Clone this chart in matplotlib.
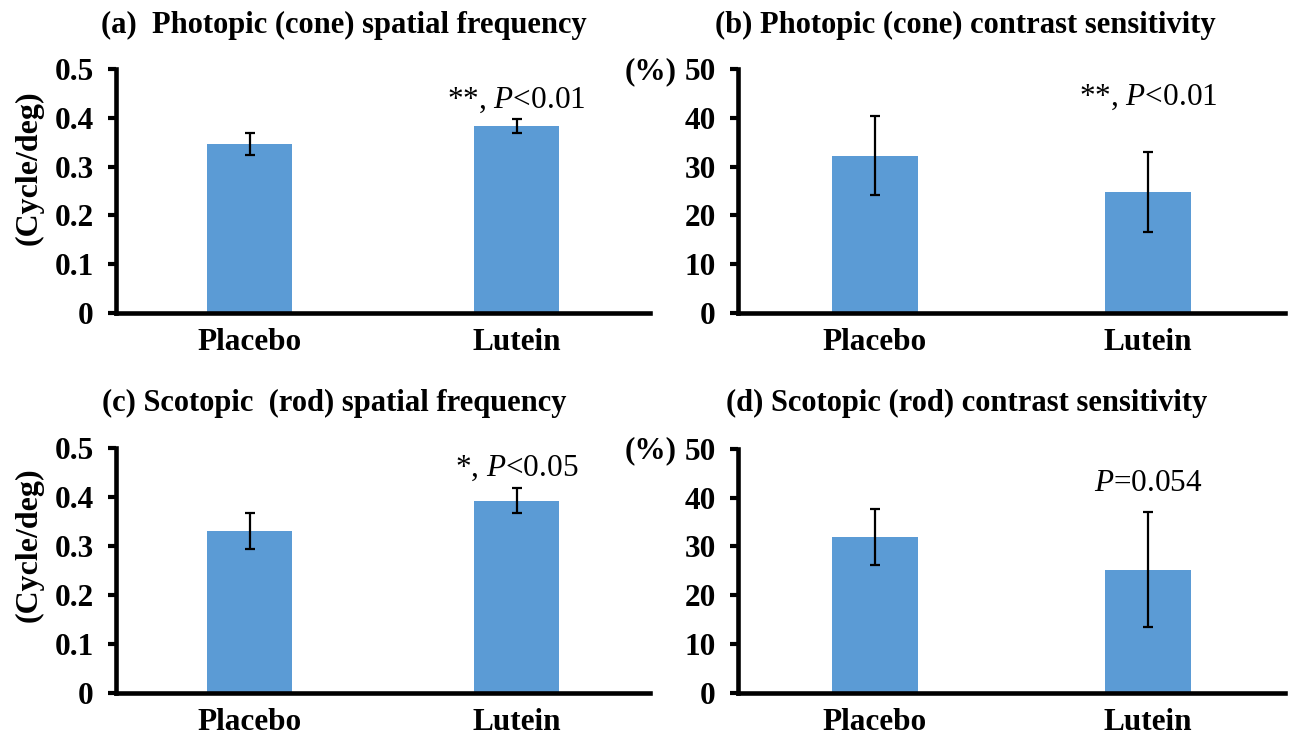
import matplotlib
matplotlib.use("Agg")
import matplotlib.pyplot as plt
import numpy as np

plt.rcParams['font.family'] = ['Liberation Serif', 'DejaVu Serif']
plt.rcParams['mathtext.fontset'] = 'custom'
plt.rcParams['mathtext.rm'] = 'Liberation Serif'
plt.rcParams['mathtext.it'] = 'Liberation Serif:italic'
plt.rcParams['mathtext.bf'] = 'Liberation Serif:bold'

categories = ["Placebo", "Lutein"]

titles = ["(a)  Photopic (cone) spatial frequency",
          "(b) Photopic (cone) contrast sensitivity",
          "(c) Scotopic  (rod) spatial frequency",
          "(d) Scotopic (rod) contrast sensitivity"]

a_vals = [0.346, 0.383]
a_err = [0.022, 0.014]
b_vals = [32.2, 24.8]
b_err = [8.1, 8.25]
c_vals = [0.331, 0.393]
c_err = [0.036, 0.025]
d_vals = [31.9, 25.2]
d_err = [5.75, 11.8]

annotations = [r"**, $\mathit{P}$<0.01", r"**, $\mathit{P}$<0.01",
               r"*, $\mathit{P}$<0.05", r"$\mathit{P}$=0.054"]
annot_y = [0.436, 44.1, 0.459, 43.0]

freq_ticks = [0, 0.1, 0.2, 0.3, 0.4, 0.5]
freq_ticklabels = ["0", "0.1", "0.2", "0.3", "0.4", "0.5"]
cs_ticks = [0, 10, 20, 30, 40, 50]
cs_ticklabels = ["0", "10", "20", "30", "40", "50"]

W, H = 1290, 737
fig = plt.figure(figsize=(W / 100, H / 100), dpi=100)

def ax_rect(x0, x1, ytop, ybot):
    return [x0 / W, 1 - ybot / H, (x1 - x0) / W, (ybot - ytop) / H]

rects = [ax_rect(116, 650, 69, 313), ax_rect(738, 1285, 69, 313),
         ax_rect(116, 650, 448.3, 692.7), ax_rect(738, 1285, 449, 692.7)]
vals = [a_vals, b_vals, c_vals, d_vals]
errs = [a_err, b_err, c_err, d_err]
title_x = [344, 965, 334, 967]
title_y = [25, 25, 403, 403]
ylabel_y = [168, 545]

bar_color = "#5B9BD5"
x = np.arange(len(categories))

for i in range(4):
    ax = fig.add_axes(rects[i])
    ax.bar(x, vals[i], width=0.315, color=bar_color, zorder=2)
    ax.errorbar(x, vals[i], yerr=errs[i], fmt='none', ecolor='black',
                elinewidth=1.6, capsize=3.5, capthick=1.6, zorder=3)
    ax.set_xlim(-0.5, 1.5)
    if i in (0, 2):
        ax.set_ylim(0, 0.5)
        ax.set_yticks(freq_ticks)
        ax.set_yticklabels(freq_ticklabels)
    else:
        ax.set_ylim(0, 50)
        ax.set_yticks(cs_ticks)
        ax.set_yticklabels(cs_ticklabels)
    ax.set_xticks(x)
    ax.set_xticklabels(categories)
    for sp in ['top', 'right']:
        ax.spines[sp].set_visible(False)
    for sp in ['left', 'bottom']:
        ax.spines[sp].set_linewidth(3.3)
    ax.tick_params(axis='y', direction='out', length=6, width=3, pad=10,
                   labelsize=22.5)
    ax.tick_params(axis='x', length=0, pad=11, labelsize=22.5)
    for lab in ax.get_xticklabels() + ax.get_yticklabels():
        lab.set_fontweight('bold')
    ax.text(1, annot_y[i], annotations[i], ha='center', va='center',
            fontsize=22.5)
    fig.text(title_x[i] / W, 1 - title_y[i] / H, titles[i], ha='center',
             va='center', fontsize=22, fontweight='bold')

for yy in ylabel_y:
    fig.text(29 / W, 1 - yy / H, "(Cycle/deg)", rotation=90, ha='center',
             va='center', fontsize=23, fontweight='bold')

fig.text(651 / W, 1 - 72 / H, "(%)", ha='center', va='center', fontsize=22.5,
         fontweight='bold')
fig.text(651 / W, 1 - 451 / H, "(%)", ha='center', va='center', fontsize=22.5,
         fontweight='bold')

fig.savefig("out.png", dpi=100)
